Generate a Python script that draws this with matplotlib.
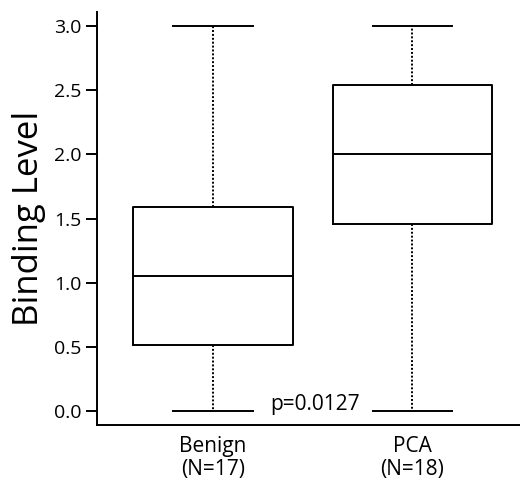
import matplotlib.pyplot as plt

plt.rcParams['font.family'] = ['Open Sans', 'DejaVu Sans']

groups = ['Benign\n(N=17)', 'PCA\n(N=18)']
mins = [0.0, 0.0]
q1s = [0.514, 1.46]
medians = [1.05, 2.0]
q3s = [1.59, 2.54]
maxs = [3.0, 3.0]
p_text = 'p=0.0127'

stats = []
for g, lo, a, m, b, hi in zip(groups, mins, q1s, medians, q3s, maxs):
    stats.append(dict(label=g, whislo=lo, q1=a, med=m, q3=b, whishi=hi, fliers=[]))

fig = plt.figure(figsize=(5.2, 4.86), dpi=100)
ax = fig.add_axes([0.1865, 0.1255, 0.8135, 0.8495])

lw = 1.4
ax.bxp(stats, positions=[1, 2], widths=0.8, showfliers=False,
       boxprops=dict(color='black', linewidth=lw),
       medianprops=dict(color='black', linewidth=lw),
       whiskerprops=dict(color='black', linewidth=lw, linestyle=(0, (1, 1))),
       capprops=dict(color='black', linewidth=lw),
       capwidths=0.4)

ax.set_xlim(0.417, 2.54)
ax.set_ylim(-0.11, 3.11)
ax.set_yticks([0.0, 0.5, 1.0, 1.5, 2.0, 2.5, 3.0])
ax.set_yticklabels(['0.0', '0.5', '1.0', '1.5', '2.0', '2.5', '3.0'])
ax.spines['top'].set_visible(False)
ax.spines['right'].set_visible(False)
ax.spines['left'].set_linewidth(lw)
ax.spines['bottom'].set_linewidth(lw)
ax.tick_params(axis='y', length=8, width=lw, labelsize=14, pad=3)
ax.tick_params(axis='x', length=0, labelsize=15, pad=8)
for t in ax.get_xticklabels():
    t.set_linespacing(1.1)
ax.set_ylabel('Binding Level', fontsize=25, labelpad=6)

ax.text(1.285, 0.05, p_text, fontsize=15, ha='left', va='center')

fig.savefig('out.png', dpi=100)
